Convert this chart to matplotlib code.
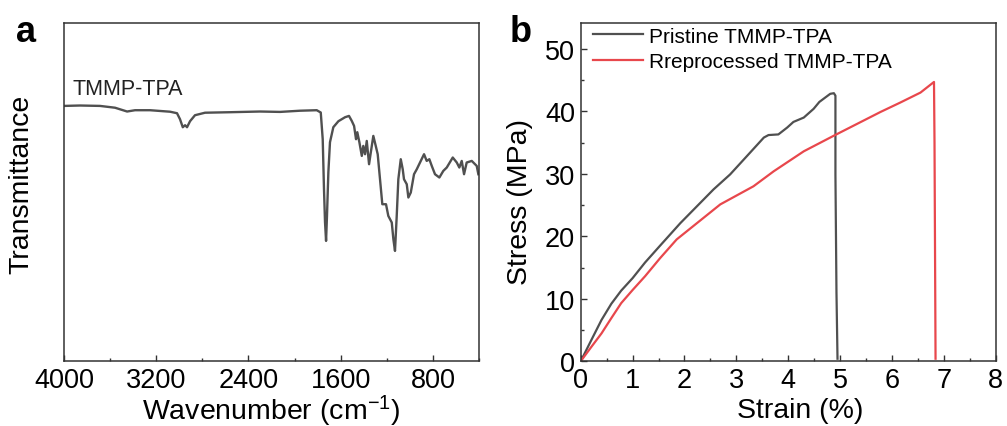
import matplotlib
matplotlib.use("Agg")
import matplotlib.pyplot as plt
from matplotlib.ticker import MultipleLocator

plt.rcParams['font.family'] = ['Liberation Sans', 'DejaVu Sans']
plt.rcParams['mathtext.fontset'] = 'custom'
plt.rcParams['mathtext.rm'] = 'Liberation Sans'
plt.rcParams['mathtext.it'] = 'Liberation Sans:italic'

# ---------------- data: FTIR spectrum (panel a) ----------------
wavenumber = [4000, 3861, 3688, 3558, 3453, 3384, 3254, 3080, 3020, 2994, 2970, 2950, 2933,
              2907, 2864, 2777, 2560, 2300, 2126, 1953, 1808, 1773, 1756, 1745, 1736, 1727,
              1719, 1707, 1693, 1664, 1620, 1562, 1528, 1504, 1484, 1467, 1456, 1438, 1417,
              1404, 1389, 1374, 1354, 1339, 1317, 1296, 1279, 1259, 1239, 1207, 1187, 1157,
              1143, 1129, 1114, 1100, 1079, 1062, 1051, 1027, 1013, 992, 964, 940, 912, 877,
              854, 831, 810, 782, 744, 710, 680, 628, 593, 571, 550, 530, 507, 463, 420, 406]
transmittance = [255.3, 255.7, 255.3, 253.5, 249.7, 251, 251, 249.5, 248, 242, 234, 236, 234,
                 240, 246, 248.5, 249, 249.7, 249.3, 250.5, 251, 248.7, 222, 172, 139, 120.3,
                 145.3, 189, 219, 234, 240, 244, 245.3, 240.3, 235.3, 222, 229, 219, 205.3,
                 215.3, 207, 220.3, 197, 208.7, 225.3, 215.3, 207, 182, 157, 157, 145.3, 138.7,
                 122, 110.3, 145.3, 182, 202, 192, 182, 177, 163.7, 168.7, 187, 192, 198.7, 207,
                 200.3, 202, 195.3, 187, 183.7, 190.3, 193.7, 203.7, 198.7, 193.7, 200.3, 187,
                 198.7, 200.3, 195.3, 187]
spectrum_label = "TMMP-TPA"

# ---------------- data: stress-strain (panel b) ----------------
strain_pristine = [0, 0.205, 0.40, 0.59, 0.78, 1.0, 1.24, 1.53, 1.92, 2.24, 2.56, 2.88, 3.20,
                   3.53, 3.62, 3.81, 3.98, 4.10, 4.30, 4.49, 4.60, 4.81, 4.88, 4.91, 4.91,
                   4.93, 4.95]
stress_pristine = [0, 3.4, 6.6, 9.2, 11.3, 13.3, 15.8, 18.5, 22.1, 24.8, 27.5, 29.9, 32.8,
                   35.8, 36.2, 36.3, 37.4, 38.3, 39.0, 40.4, 41.5, 42.8, 42.9, 42.5, 29.9,
                   11.0, 0.4]
strain_reproc = [0, 0.205, 0.40, 0.59, 0.78, 1.0, 1.24, 1.53, 1.85, 2.24, 2.69, 3.33, 3.72,
                 4.30, 4.88, 5.78, 6.16, 6.55, 6.81, 6.82, 6.84]
stress_reproc = [0, 2.3, 4.45, 6.9, 9.3, 11.4, 13.6, 16.5, 19.5, 22.1, 25.1, 28.0, 30.4,
                 33.6, 36.1, 39.9, 41.4, 43.0, 44.7, 35.0, 0.4]
series_labels = ["Pristine TMMP-TPA", "Rreprocessed TMMP-TPA"]

GRAY = "#505050"
RED = "#e8474c"
SPINE = "#333333"
TICK_FS = 19.5
LABEL_FS = 20.5

fig = plt.figure(figsize=(10.07, 4.27), dpi=100)
axa = fig.add_axes([0.0636, 0.1517, 0.4121, 0.7916])
axb = fig.add_axes([0.5767, 0.1517, 0.4121, 0.7916])

for ax in (axa, axb):
    for s in ax.spines.values():
        s.set_color(SPINE)
        s.set_linewidth(1.1)
    ax.tick_params(which='both', direction='in', color=SPINE, labelsize=TICK_FS, pad=4)
    ax.tick_params(which='major', length=4.5, width=1.0)
    ax.tick_params(which='minor', length=2.5, width=1.0)

# panel a
axa.plot(wavenumber, transmittance, color=GRAY, lw=1.7)
axa.set_xlim(4000, 400)
axa.set_ylim(0, 338)
axa.set_xticks([4000, 3200, 2400, 1600, 800])
axa.xaxis.set_minor_locator(MultipleLocator(400))
axa.set_yticks([])
axa.set_xlabel(r"Wavenumber (cm$^{-1}$)", fontsize=LABEL_FS, labelpad=0)
axa.set_ylabel("Transmittance", fontsize=LABEL_FS)
axa.yaxis.set_label_coords(-0.072, 0.527)
axa.text(0.021, 0.792, spectrum_label, transform=axa.transAxes, fontsize=15.5,
         color="#222222", ha='left', va='baseline')
fig.text(0.016, 0.902, "a", fontsize=26, fontweight='bold', ha='left', va='baseline')

# panel b
axb.plot(strain_pristine, stress_pristine, color=GRAY, lw=1.6, label=series_labels[0])
axb.plot(strain_reproc, stress_reproc, color=RED, lw=1.6, label=series_labels[1])
axb.set_xlim(0, 8)
axb.set_ylim(0, 54.1)
axb.set_xticks(range(0, 9))
axb.xaxis.set_minor_locator(MultipleLocator(0.5))
axb.set_yticks([0, 10, 20, 30, 40, 50])
axb.yaxis.set_minor_locator(MultipleLocator(5))
axb.set_xlabel("Strain (%)", fontsize=LABEL_FS)
axb.xaxis.set_label_coords(0.528, -0.105)
axb.set_ylabel("Stress (MPa)", fontsize=LABEL_FS)
axb.yaxis.set_label_coords(-0.115, 0.475)
leg = axb.legend(loc='upper left', bbox_to_anchor=(0.029, 0.99), frameon=False,
                 fontsize=15, handlelength=2.4, handletextpad=0.3, borderpad=0,
                 borderaxespad=0, labelspacing=0.3)
fig.text(0.506, 0.902, "b", fontsize=26, fontweight='bold', ha='left', va='baseline')

fig.savefig("out.png", dpi=100)
